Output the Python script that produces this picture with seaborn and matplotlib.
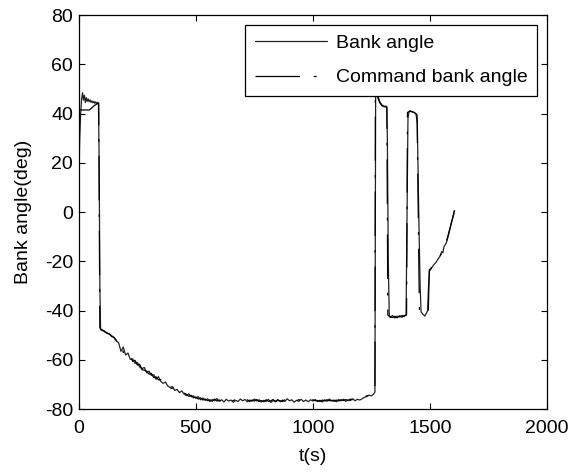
import numpy as np
import pandas as pd
import matplotlib
matplotlib.use("Agg")
import matplotlib.pyplot as plt
import seaborn as sns

# actual bank angle (deg) vs time (s)
bank_t = [0, 4, 8, 12, 16, 20, 24, 28, 32, 36, 40, 44, 48, 52, 56, 60, 64, 68, 72, 76, 80, 84, 87, 90, 93, 96,
          100, 110, 120, 130, 140, 150, 160, 170, 180, 190, 200, 210, 220, 230, 240, 250, 260, 270, 280, 290,
          300, 310, 320, 330, 340, 350, 360, 370, 380, 390, 400, 410, 420, 430, 440, 450, 460, 470, 480, 490,
          500, 510, 520, 530, 540, 550, 560, 570, 580, 590, 600, 610, 620, 630, 640, 650, 660, 670, 680, 690,
          700, 710, 720, 730, 740, 750, 760, 770, 780, 790, 800, 810, 820, 830, 840, 850, 860, 870, 880, 890,
          900, 910, 920, 930, 940, 950, 960, 970, 980, 990, 1000, 1010, 1020, 1030, 1040, 1050, 1060, 1070,
          1080, 1090, 1100, 1110, 1120, 1130, 1140, 1150, 1160, 1170, 1180, 1190, 1200, 1210, 1220, 1230,
          1240, 1250, 1260, 1265, 1268, 1275, 1285, 1295, 1305, 1315, 1318, 1322, 1326, 1330, 1340, 1350,
          1360, 1370, 1380, 1390, 1398, 1402, 1406, 1410, 1415, 1420, 1430, 1440, 1446, 1452, 1458, 1462,
          1470, 1478, 1485, 1490, 1494, 1498, 1505, 1515, 1525, 1535, 1545, 1550, 1555, 1560, 1570, 1580,
          1590, 1600, 1605]
bank_deg = [12, 30, 40, 46, 48.5, 45.5, 47.5, 44.5, 46.5, 45.0, 46.0, 44.8, 45.6, 44.6, 45.2, 44.4, 45.0, 44.2,
            44.8, 44.0, 44.6, 44.2, 20, -30, -47.5, -48.0,
            -48.0, -48.6, -48.9, -49.6, -50.1, -51.0, -52.3, -53.0, -56.5, -54.8, -58.0, -57.2, -59.8, -59.6,
            -61.4, -61.0, -62.9, -63.5, -63.1, -65.2, -64.6, -66.3, -66.0, -67.9, -66.8, -68.7, -69.5, -69.0,
            -70.6, -71.2, -70.8, -72.4, -72.0, -73.3, -72.6, -73.9, -74.5, -73.8, -75.0, -74.6, -75.6, -74.9,
            -76.2, -75.5, -76.4, -75.8, -76.9, -76.1, -76.6, -75.7, -76.8, -76.2, -77.1, -76.0, -76.7, -76.3,
            -77.2, -76.4, -76.9, -75.9, -76.6, -76.1, -77.0, -76.3, -76.8, -75.9, -76.7, -76.2, -77.1, -76.4,
            -76.9, -76.0, -77.3, -76.5, -76.8, -76.1, -77.0, -76.3, -76.9, -75.8, -76.6, -76.2, -77.2, -76.4,
            -76.8, -76.0, -76.9, -76.3, -77.0, -76.2, -76.7, -76.1, -76.9, -76.4, -77.1, -76.2, -76.8, -75.9,
            -76.7, -76.3, -77.0, -76.1, -76.6, -76.0, -76.8, -76.2, -76.5, -75.8, -76.6, -76.0, -76.3, -75.8,
            -75.2, -74.9, -74.3, -74.6, -73.8, -73.0, 51.0, 48.0, 45.0, 43.5, 43.0, 43.0, 30, -20, -41.5, -42.8,
            -42.0, -43.0, -42.2, -42.6, -41.9, -42.4, -41.5, 0, 38, 40.5, 41.2, 40.8, 40.6, 40.0, 36, 0, -30,
            -40.5, -41.5, -42.2, -41.0, -40.0, -30, -24.0, -23.0, -21.5, -20.5, -19.0, -17.5, -16.0, -16.5,
            -14.0, -12.5, -9.0, -5.0, -1.0, 0.5]

# command bank angle (deg) vs time (s)
cmd_t = [0, 45, 55, 65, 75, 85, 90, 96,
         100, 110, 120, 130, 140, 150, 160, 170, 180, 190, 200, 210, 220, 230, 240, 250, 260, 270, 280, 290,
         300, 310, 320, 330, 340, 350, 360, 370, 380, 390, 400, 410, 420, 430, 440, 450, 460, 470, 480, 490,
         500, 510, 520, 530, 540, 550, 560, 570, 580, 590, 600, 610, 620, 630, 640, 650, 660, 670, 680, 690,
         700, 710, 720, 730, 740, 750, 760, 770, 780, 790, 800, 810, 820, 830, 840, 850, 860, 870, 880, 890,
         900, 910, 920, 930, 940, 950, 960, 970, 980, 990, 1000, 1010, 1020, 1030, 1040, 1050, 1060, 1070,
         1080, 1090, 1100, 1110, 1120, 1130, 1140, 1150, 1160, 1170, 1180, 1190, 1200, 1210, 1220, 1230,
         1240, 1250, 1260, 1265, 1267, 1275, 1285, 1295, 1305, 1316, 1320, 1330, 1340, 1350, 1360, 1370,
         1380, 1390, 1400, 1404, 1415, 1425, 1435, 1445, 1455, 1465, 1475, 1485, 1493, 1497, 1510, 1520,
         1530, 1540, 1550, 1560, 1570, 1580, 1590, 1600, 1605]
cmd_deg = [41.5, 41.5, 42.3, 43.2, 43.8, 44.3, -47.0, -47.6,
           -47.8, -48.3, -49.2, -49.4, -50.5, -50.8, -52.0, -54.2, -53.6, -57.0, -56.4, -58.9, -58.5, -60.6,
           -60.2, -62.1, -61.8, -64.0, -64.2, -64.6, -65.8, -65.5, -67.2, -66.9, -68.1, -68.0, -69.0, -70.2,
           -70.0, -71.6, -71.5, -71.8, -72.9, -72.5, -73.6, -73.4, -74.0, -74.8, -74.4, -75.4, -75.1, -75.9,
           -75.4, -76.3, -75.9, -76.6, -76.2, -76.8, -75.9, -76.7, -76.3, -76.9, -76.4, -77.0, -76.1, -76.8,
           -76.5, -76.0, -76.8, -76.4, -77.0, -76.5, -76.2, -76.9, -76.3, -76.7, -76.1, -76.9, -76.5, -77.0,
           -76.2, -76.8, -76.6, -76.1, -77.0, -76.4, -76.6, -76.9, -76.2, -76.7, -76.3, -76.9, -76.5, -76.8,
           -76.1, -76.7, -76.4, -76.9, -76.5, -76.8, -76.2, -76.6, -76.5, -76.9, -76.3, -76.7, -76.2, -76.6,
           -76.4, -76.8, -76.3, -76.7, -76.2, -76.5, -76.1, -76.6, -75.9, -76.2, -75.8, -76.1, -75.7, -75.4,
           -75.0, -74.6, -74.5, -74.0, -73.6, -73.2, 50.5, 47.0, 44.5, 43.2, 42.8, 42.6, -41.8, -42.5, -42.8,
           -42.3, -42.9, -42.1, -42.7, -42.0, -41.8, 40.5, 41.0, 40.8, 40.3, 39.5, -40.8, -41.2, -41.6, -40.8,
           -40.2, -23.5, -22.2, -21.0, -19.8, -18.5, -16.5, -14.8, -12.0, -8.5, -4.8, -1.5, 0.8]

sns.set_style("ticks")
plt.rcParams["font.family"] = ["Liberation Sans", "DejaVu Sans"]
plt.rcParams["axes.unicode_minus"] = False
plt.rcParams["lines.scale_dashes"] = False
plt.rcParams["text.color"] = "black"
plt.rcParams["axes.labelcolor"] = "black"

bank_df = pd.DataFrame({"t": bank_t, "angle": bank_deg})
cmd_df = pd.DataFrame({"t": cmd_t, "angle": cmd_deg})

fig = plt.figure(figsize=(5.71, 4.73), dpi=100)
ax = fig.add_axes([0.138, 0.135, 0.82, 0.833])

sns.lineplot(data=bank_df, x="t", y="angle", ax=ax, sort=False, estimator=None,
             color="#222222", linewidth=0.9, label="Bank angle")
sns.lineplot(data=cmd_df, x="t", y="angle", ax=ax, sort=False, estimator=None,
             color="black", linewidth=0.9, linestyle=(0, (32, 10, 2, 10)), label="Command bank angle")

ax.set_xlim(0, 2000)
ax.set_ylim(-80, 80)
ax.set_xticks(np.arange(0, 2001, 500))
ax.set_yticks(np.arange(-80, 81, 20))
ax.tick_params(direction="in", top=True, right=True, length=4, width=0.8, labelsize=14, colors="black")
ax.tick_params(axis="x", pad=8)
ax.tick_params(axis="y", pad=4)
for s in ax.spines.values():
    s.set_linewidth(0.9)
    s.set_color("black")
ax.set_xlabel("t(s)", fontsize=14, labelpad=8)
ax.set_ylabel("Bank angle(deg)", fontsize=14, labelpad=9)

leg = ax.legend(loc="upper right", fontsize=14, frameon=True, fancybox=False, framealpha=1,
                edgecolor="black", borderaxespad=0.5, handlelength=3.7, handletextpad=0.45,
                borderpad=0.5, labelspacing=0.85)
leg.get_frame().set_linewidth(0.9)

fig.savefig("out.png", dpi=100)
